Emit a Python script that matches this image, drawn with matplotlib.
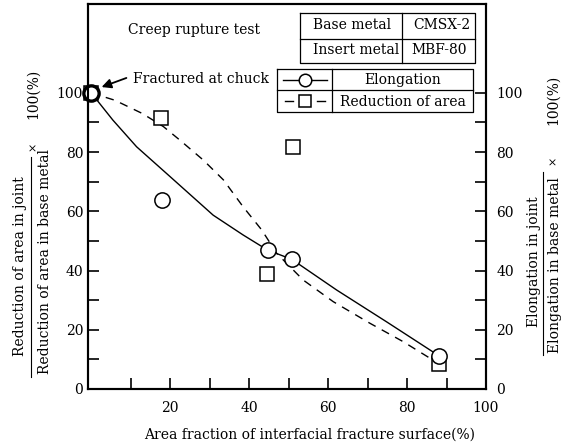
import matplotlib
matplotlib.use("Agg")
import matplotlib.pyplot as plt

plt.rcParams.update({"font.family": "DejaVu Serif", "font.size": 10})

# measured points
frac_elong = [0, 18.0, 44.7, 50.8, 88.1]
elongation = [100, 63.8, 46.9, 43.8, 11.2]
frac_red = [0, 17.8, 44.6, 51.0, 88.1]
reduction = [100, 91.5, 38.8, 81.8, 8.3]

# hand-drawn trend curves
curve_elong_x = [0, 5.5, 11.5, 20, 30.9, 38.5, 44.7, 50.8, 62.2, 74.8, 88.1]
curve_elong_y = [100, 90.8, 81.8, 71.7, 58.7, 52, 46.9, 43.8, 33.4, 22.7, 11.2]
curve_red_x = [0, 6, 13, 18.3, 22.5, 28.4, 33.5, 38.5, 43.2, 47, 53.7, 61.3, 70.6, 79, 87.5]
curve_red_y = [100, 97.5, 93, 88.6, 84, 77.3, 70.6, 61.5, 53.7, 45.8, 36.8, 29.5, 22.2, 16, 9]

x_major = [20, 40, 60, 80, 100]
y_major = [0, 20, 40, 60, 80, 100]
minor = [10, 30, 50, 70, 90]

W, H = 574, 447
fig = plt.figure(figsize=(W / 100, H / 100), dpi=100)
ax = fig.add_axes([88 / W, 1 - 389 / H, 398 / W, 385 / H])
ax2 = ax.twinx()

ax.plot(curve_elong_x, curve_elong_y, color="k", lw=1.0, zorder=2)
ax.plot(curve_red_x, curve_red_y, color="k", lw=1.0, ls=(0, (6, 5)), zorder=2)
ax.plot(frac_red, reduction, ls="none", marker="s", ms=10.5, mfc="white",
        mec="k", mew=1.1, clip_on=False, zorder=3)
ax.plot(frac_elong, elongation, ls="none", marker="o", ms=11, mfc="white",
        mec="k", mew=1.1, clip_on=False, zorder=4)
ax.plot(frac_elong[:1], elongation[:1], ls="none", marker="o", ms=11, mfc="white",
        mec="k", mew=2.4, clip_on=False, zorder=5)

for a in (ax, ax2):
    a.set_xlim(-0.8, 100)
    a.set_ylim(0, 130)
    for s in a.spines.values():
        s.set_linewidth(1.5)
ax.set_xticks(x_major)
ax.set_xticks(minor, minor=True)
ax.set_yticks(y_major)
ax.set_yticks(minor, minor=True)
ax2.set_yticks(y_major)
ax2.set_yticks(minor, minor=True)
ax.tick_params(axis="x", which="both", direction="in", length=8, width=1.2, pad=9)
ax.tick_params(axis="y", which="both", direction="in", length=8, width=1.2, pad=3.5, right=False)
ax2.tick_params(axis="y", which="both", direction="in", length=8, width=1.2, pad=7.5)

# overlay in pixel coordinates for annotations and tables
ov = fig.add_axes([0, 0, 1, 1], zorder=10)
ov.set_xlim(0, W)
ov.set_ylim(H, 0)
ov.axis("off")

ov.text(194, 30, "Creep rupture test", ha="center", va="center")
ov.text(133, 79, "Fractured at chuck", ha="left", va="center")
ov.annotate("", xy=(99, 88), xytext=(129, 77),
            arrowprops=dict(arrowstyle="-|>", color="k", lw=1.3, mutation_scale=14))

# material table
tl = 0.9
ov.plot([300, 475, 475, 300, 300], [13, 13, 63, 63, 13], "k", lw=tl)
ov.plot([300, 475], [38.5, 38.5], "k", lw=tl)
ov.plot([402, 402], [13, 63], "k", lw=tl)
ov.text(352, 25, "Base metal", ha="center", va="center")
ov.text(442, 25, "CMSX-2", ha="center", va="center")
ov.text(356, 50, "Insert metal", ha="center", va="center")
ov.text(439, 50, "MBF-80", ha="center", va="center")

# legend table
ov.plot([277, 473, 473, 277, 277], [69, 69, 112, 112, 69], "k", lw=tl)
ov.plot([277, 473], [90, 90], "k", lw=tl)
ov.plot([332, 332], [69, 112], "k", lw=tl)
ov.plot([283, 327], [80, 80], "k", lw=1.0)
ov.plot([305], [80], marker="o", ms=9, mfc="white", mec="k", mew=1.1)
ov.plot([285, 293], [101, 101], "k", lw=1.0)
ov.plot([317, 325], [101, 101], "k", lw=1.0)
ov.plot([305], [101], marker="s", ms=8, mfc="white", mec="k", mew=1.1)
ov.text(403, 80, "Elongation", ha="center", va="center")
ov.text(403, 102, "Reduction of area", ha="center", va="center")

# axis titles
ov.text(310, 435, "Area fraction of interfacial fracture surface(%)", ha="center", va="center")

ov.text(20, 266, "Reduction of area in joint", rotation=90, ha="center", va="center")
ov.plot([31, 31], [157, 377], "k", lw=0.8)
ov.text(45, 262, "Reduction of area in base metal", rotation=90, ha="center", va="center")
ov.text(33, 146, "×", rotation=90, ha="center", va="center", fontsize=8)
ov.text(33, 94, "100(%)", rotation=90, ha="center", va="center")

ov.text(534, 262, "Elongation in joint", rotation=90, ha="center", va="center")
ov.plot([543, 543], [172, 355], "k", lw=0.8)
ov.text(555, 265, "Elongation in base metal", rotation=90, ha="center", va="center")
ov.text(553, 160, "×", rotation=90, ha="center", va="center", fontsize=8)
ov.text(553, 100, "100(%)", rotation=90, ha="center", va="center")

fig.savefig("out.png", dpi=100)
